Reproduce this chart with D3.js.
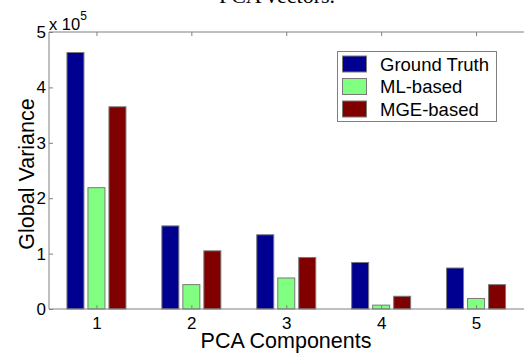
<!DOCTYPE html>
<html><head><meta charset="utf-8">
<script src="https://cdn.jsdelivr.net/npm/d3@7"></script>
<style>body{margin:0;background:#fff}svg{display:block}</style>
</head><body>
<svg id="c" width="524" height="354"></svg>
<script>
const categories = [1, 2, 3, 4, 5];
const seriesNames = ["Ground Truth", "ML-based", "MGE-based"];
const groundTruth = [4.63, 1.50, 1.34, 0.84, 0.74];
const mlBased = [2.19, 0.44, 0.56, 0.07, 0.19];
const mgeBased = [3.65, 1.05, 0.93, 0.23, 0.44];
const yTicks = [0, 1, 2, 3, 4, 5];
const colors = ["#000090", "#80ff80", "#800000"];
const series = [groundTruth, mlBased, mgeBased];

const svg = d3.select("#c");
const L = 49, R = 523.5, T = 32, B = 309;
const x = d3.scaleLinear().domain([0.5, 5.5]).range([L, R]);
const y = d3.scaleLinear().domain([0, 5]).range([B, T]);
const barW = 17, off = 21;
const axisCol = "#808080";
const font = "Liberation Sans, Arial, sans-serif";

// clipped title
svg.append("text").attr("x", 277).attr("y", 3).attr("text-anchor", "middle")
  .attr("font-family", "Liberation Serif, Times New Roman, serif").attr("font-size", 22)
  .attr("fill", "#000").text("PCA vectors.");

// bars
series.forEach((vals, si) => {
  svg.append("g").selectAll("rect").data(vals).join("rect")
    .attr("x", (d, i) => x(categories[i]) + (si - 1) * off - barW / 2)
    .attr("y", d => y(d))
    .attr("width", barW)
    .attr("height", d => B - y(d))
    .attr("fill", colors[si])
    .attr("stroke", "#7a7a7a").attr("stroke-width", 1);
});

// axes box
const g = svg.append("g");
g.append("line").attr("x1", L).attr("x2", L).attr("y1", T).attr("y2", B).attr("stroke", axisCol);
g.append("line").attr("x1", L).attr("x2", 524).attr("y1", T).attr("y2", T).attr("stroke", axisCol);
g.append("line").attr("x1", L).attr("x2", 524).attr("y1", B).attr("y2", B).attr("stroke", axisCol);

// y axis ticks & labels
const yAxis = d3.axisLeft(y).tickValues(yTicks).tickSize(-4).tickPadding(3).tickFormat(d3.format("d"));
const ya = svg.append("g").attr("transform", `translate(${L},0)`).call(yAxis);
ya.select(".domain").remove();
ya.selectAll("line").attr("stroke", axisCol);
ya.selectAll("text").attr("font-family", font).attr("font-size", 17).attr("fill", "#000");

// x axis bottom
const xAxis = d3.axisBottom(x).tickValues(categories).tickSize(-4).tickPadding(8).tickFormat(d3.format("d"));
const xa = svg.append("g").attr("transform", `translate(0,${B})`).call(xAxis);
xa.select(".domain").remove();
xa.selectAll("line").attr("stroke", axisCol);
xa.selectAll("text").attr("font-family", font).attr("font-size", 17).attr("fill", "#000");
// x axis top ticks
const xt = svg.append("g").attr("transform", `translate(0,${T})`).call(d3.axisTop(x).tickValues(categories).tickSize(-4).tickFormat(""));
xt.select(".domain").remove();
xt.selectAll("line").attr("stroke", axisCol);

// exponent label
const ex = svg.append("text").attr("x", 49).attr("y", 30).attr("font-family", font).attr("font-size", 16.5).attr("fill", "#000");
ex.append("tspan").text("x 10");
ex.append("tspan").attr("dy", -10).attr("font-size", 12).text("5");

// axis titles
svg.append("text").attr("transform", `translate(34,${174}) rotate(-90)`).attr("text-anchor", "middle")
  .attr("font-family", font).attr("font-size", 21.5).attr("fill", "#000").text("Global Variance");
svg.append("text").attr("x", 286).attr("y", 348).attr("text-anchor", "middle")
  .attr("font-family", font).attr("font-size", 21.5).attr("fill", "#000").text("PCA Components");

// legend
const lg = svg.append("g");
lg.append("rect").attr("x", 337.5).attr("y", 51.5).attr("width", 159).attr("height", 70)
  .attr("fill", "#fff").attr("stroke", axisCol);
seriesNames.forEach((n, i) => {
  const cy = 64 + i * 22.5;
  lg.append("rect").attr("x", 342.5).attr("y", cy - 8).attr("width", 24).attr("height", 16)
    .attr("fill", colors[i]).attr("stroke", "#7a7a7a");
  lg.append("text").attr("x", 380).attr("y", cy + 6.5).attr("font-family", font).attr("font-size", 18.5)
    .attr("fill", "#000").text(n);
});
</script>
</body></html>
